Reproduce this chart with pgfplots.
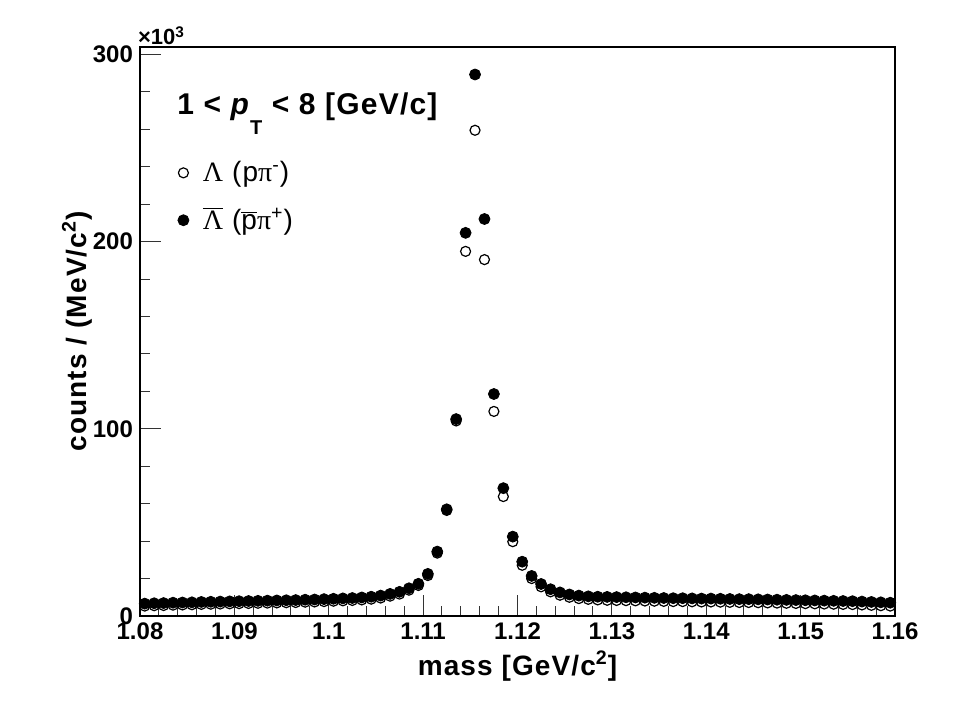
\documentclass[border=0pt]{standalone}
\usepackage{fontspec}
\setmainfont{Liberation Sans}
\newfontfamily\spaced{Liberation Sans}[LetterSpace=4]
\newfontfamily\greek{Liberation Serif}
\newfontfamily\greeksp{Liberation Serif}[LetterSpace=4]
\usepackage{pgfplots}
\usepackage{pgfplotstable}
\pgfplotsset{compat=1.18}
\pgfplotstableread{
x y
1.0805 5.3
1.0815 5.5
1.0825 5.6
1.0835 5.8
1.0845 5.9
1.0855 6.0
1.0865 6.2
1.0875 6.3
1.0885 6.4
1.0895 6.5
1.0905 6.6
1.0915 6.7
1.0925 6.8
1.0935 6.9
1.0945 7.0
1.0955 7.1
1.0965 7.2
1.0975 7.4
1.0985 7.5
1.0995 7.7
1.1005 7.9
1.1015 8.1
1.1025 8.3
1.1035 8.6
1.1045 9.0
1.1055 9.6
1.1065 10.6
1.1075 11.7
1.1085 13.8
1.1095 16.3
1.1105 21.6
1.1115 33.6
1.1125 56.4
1.1135 104.2
1.1145 194.8
1.1155 259.5
1.1165 190.4
1.1175 109.3
1.1185 63.8
1.1195 39.7
1.1205 27.1
1.1215 20.0
1.1225 15.6
1.1235 12.9
1.1245 11.1
1.1255 10.0
1.1265 9.3
1.1275 8.9
1.1285 8.6
1.1295 8.4
1.1305 8.3
1.1315 8.2
1.1325 8.1
1.1335 8.0
1.1345 7.9
1.1355 7.8
1.1365 7.7
1.1375 7.7
1.1385 7.6
1.1395 7.5
1.1405 7.5
1.1415 7.4
1.1425 7.3
1.1435 7.2
1.1445 7.2
1.1455 7.1
1.1465 7.0
1.1475 6.9
1.1485 6.8
1.1495 6.7
1.1505 6.6
1.1515 6.5
1.1525 6.4
1.1535 6.3
1.1545 6.2
1.1555 6.1
1.1565 5.9
1.1575 5.7
1.1585 5.5
1.1595 5.3
}\lam
\pgfplotstableread{
x y
1.0805 6.6
1.0815 6.8
1.0825 6.9
1.0835 7.1
1.0845 7.2
1.0855 7.3
1.0865 7.5
1.0875 7.6
1.0885 7.7
1.0895 7.8
1.0905 7.9
1.0915 8.0
1.0925 8.1
1.0935 8.2
1.0945 8.3
1.0955 8.4
1.0965 8.5
1.0975 8.7
1.0985 8.8
1.0995 9.0
1.1005 9.2
1.1015 9.4
1.1025 9.6
1.1035 9.9
1.1045 10.3
1.1055 10.9
1.1065 11.8
1.1075 12.9
1.1085 14.8
1.1095 17.2
1.1105 22.5
1.1115 34.4
1.1125 57.0
1.1135 105.2
1.1145 204.7
1.1155 289.3
1.1165 212.1
1.1175 118.6
1.1185 68.3
1.1195 42.4
1.1205 29.0
1.1215 21.4
1.1225 17.1
1.1235 14.3
1.1245 12.6
1.1255 11.5
1.1265 10.9
1.1275 10.5
1.1285 10.3
1.1295 10.2
1.1305 10.1
1.1315 10.0
1.1325 9.9
1.1335 9.8
1.1345 9.7
1.1355 9.6
1.1365 9.5
1.1375 9.5
1.1385 9.4
1.1395 9.3
1.1405 9.3
1.1415 9.2
1.1425 9.1
1.1435 9.0
1.1445 9.0
1.1455 8.9
1.1465 8.8
1.1475 8.7
1.1485 8.6
1.1495 8.5
1.1505 8.4
1.1515 8.3
1.1525 8.2
1.1535 8.1
1.1545 8.0
1.1555 7.9
1.1565 7.7
1.1575 7.5
1.1585 7.3
1.1595 7.1
}\antilam
\begin{document}
\begin{tikzpicture}
\useasboundingbox (-70pt,-47pt) rectangle (416pt,308pt);
\begin{axis}[
  at={(0pt,0pt)}, anchor=south west,
  scale only axis, width=377.5pt, height=284.5pt,
  clip=false,
  xmin=1.08, xmax=1.16, ymin=0, ymax=304,
  xtick={1.08,1.09,1.10,1.11,1.12,1.13,1.14,1.15,1.16},
  xticklabels={1.08,1.09,1.1,1.11,1.12,1.13,1.14,1.15,1.16},
  ytick={0,100,200,300},
  yticklabels={0,100,200,300},
  minor x tick num=4, minor y tick num=4,
  tick pos=left, tick align=inside,
  axis line style={line width=1pt},
  major tick length=10.5pt, minor tick length=5pt,
  every tick/.style={line width=0.5pt, black!80},
  ticklabel style={font=\fontsize{12}{14}\selectfont\bfseries},
  xlabel={mass [GeV/c\textsuperscript{2}]},
  ylabel={counts / (MeV/c\textsuperscript{2})},
  label style={font=\fontsize{14}{16}\selectfont\spaced\bfseries},
  xlabel style={at={(axis description cs:0.5,-0.088)}, anchor=center},
  ylabel style={at={(axis description cs:-0.0834,0.5)}, anchor=center},
  legend cell align=left,
  legend style={at={(axis description cs:0.0497,0.807)}, anchor=north west,
    draw=none, fill=none, inner sep=0pt, font=\fontsize{14}{15}\selectfont\spaced,
    row sep=7.5pt, column sep=5pt},
  legend image code/.code={\draw[#1] plot coordinates {(0pt,0pt)};},
]
\addplot[only marks, mark=o, mark size=2.5pt, mark options={line width=0.6pt}] table {\lam};
\addlegendentry{{\greeksp Λ} (p{\greeksp π}\textsuperscript{-})}
\addplot[only marks, mark=*, mark size=2.75pt, black] table {\antilam};
\addlegendentry{$\overline{\hbox{\greeksp Λ}}$ ($\overline{\hbox{p}}${\greeksp π}\textsuperscript{+})}
\node[anchor=base west, inner sep=0pt, font=\fontsize{15}{17}\selectfont\spaced\bfseries]
  at (axis description cs:0.049,0.882)
  {1 < \textit{p}\raisebox{-0.68em}{\fontsize{10}{11}\selectfont T} < 8 [GeV/c]};
\node[anchor=base west, inner sep=0pt, font=\fontsize{11}{12}\selectfont\bfseries]
  at (axis description cs:-0.003,1) [yshift=1pt] {×10\textsuperscript{3}};
\end{axis}
\end{tikzpicture}
\end{document}
